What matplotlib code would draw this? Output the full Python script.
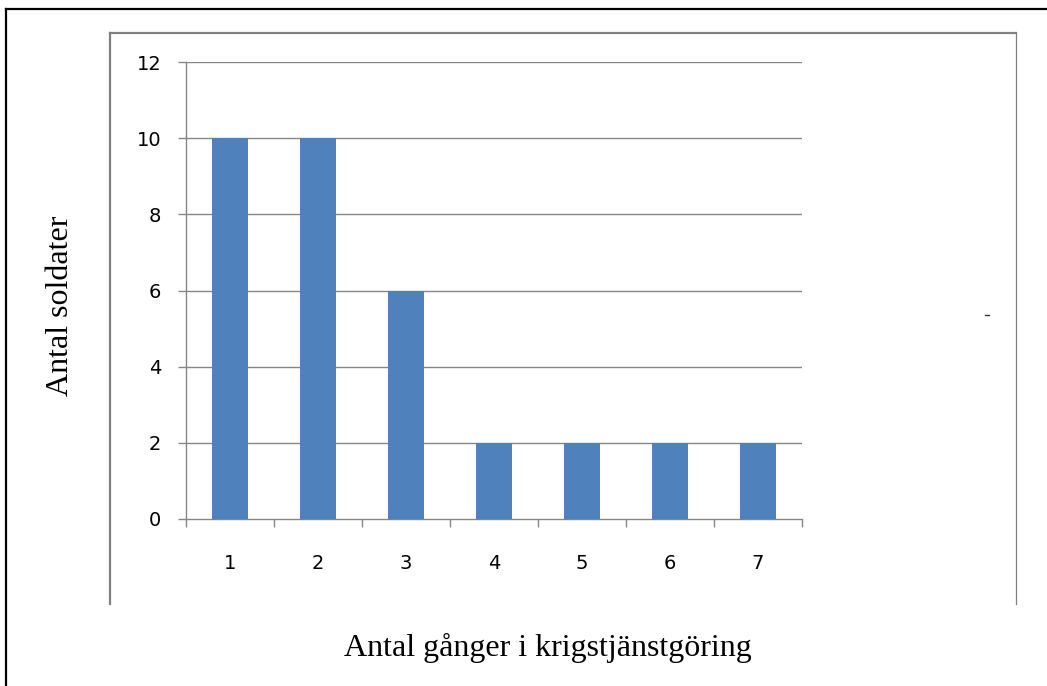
import matplotlib
matplotlib.use("Agg")
import matplotlib.pyplot as plt
from matplotlib.lines import Line2D

# Antal gånger i krigstjänstgöring -> antal soldater
categories = ["1", "2", "3", "4", "5", "6", "7"]
soldiers = [10, 10, 6, 2, 2, 2, 2]
y_ticks = [0, 2, 4, 6, 8, 10, 12]

W, H = 1047, 686
DPI = 100
fig = plt.figure(figsize=(W / DPI, H / DPI), dpi=DPI)
fig.patch.set_facecolor("white")

def fx(px):
    return px / W

def fy(py):
    return 1 - py / H

grid_col = "#868686"
bar_col = "#4F81BD"

ax = fig.add_axes([fx(186), fy(519), fx(802) - fx(186), fy(62) - fy(519)])
x = list(range(1, len(categories) + 1))
ax.bar(x, soldiers, width=0.4, color=bar_col, zorder=3)

ax.set_xlim(0.5, len(categories) + 0.5)
ax.set_ylim(0, 12)
ax.set_yticks(y_ticks)
ax.set_yticklabels([str(v) for v in y_ticks])
ax.set_xticks(x)
ax.set_xticklabels(categories)
ax.set_xticks([i + 0.5 for i in range(0, len(categories) + 1)], minor=True)

for v in y_ticks[1:]:
    ax.axhline(v, color=grid_col, lw=1.0, zorder=1)

for s in ["top", "right"]:
    ax.spines[s].set_visible(False)
for s in ["left", "bottom"]:
    ax.spines[s].set_color(grid_col)
    ax.spines[s].set_linewidth(1.0)

ax.tick_params(axis="y", which="major", length=5.8, width=1.0, color=grid_col,
               direction="out", labelsize=14, pad=12, labelcolor="black")
ax.tick_params(axis="x", which="major", length=0, labelsize=14, pad=25,
               labelcolor="black")
ax.tick_params(axis="x", which="minor", length=5.8, width=1.0, color=grid_col,
               direction="out")
for lab in ax.get_yticklabels() + ax.get_xticklabels():
    lab.set_family("DejaVu Sans")

# axis titles in a serif face
fig.text(fx(60), fy(306), "Antal soldater", rotation=90, ha="center", va="center",
         family="Liberation Serif", fontsize=23, color="black")
fig.text(fx(548), fy(648), "Antal gånger i krigstjänstgöring", ha="center",
         va="center", family="Liberation Serif", fontsize=23, color="black")

# outer black frame
fig.add_artist(Line2D([fx(6), fx(6)], [fy(9), fy(H + 5)], color="black", lw=1.6))
fig.add_artist(Line2D([fx(6), fx(W + 5)], [fy(9), fy(9)], color="black", lw=1.6))

# inner gray chart frame
frame_col = "#808080"
fig.add_artist(Line2D([fx(110), fx(110)], [fy(33), fy(604)], color=frame_col, lw=1.6))
fig.add_artist(Line2D([fx(110), fx(1016)], [fy(33), fy(33)], color=frame_col, lw=1.6))
fig.add_artist(Line2D([fx(1016), fx(1016)], [fy(33), fy(604)], color=frame_col, lw=0.9))

# small stray mark right of the plot
fig.add_artist(Line2D([fx(985), fx(989)], [fy(315), fy(315)], color="#333333", lw=1.0))

fig.savefig("out.png", dpi=DPI)
